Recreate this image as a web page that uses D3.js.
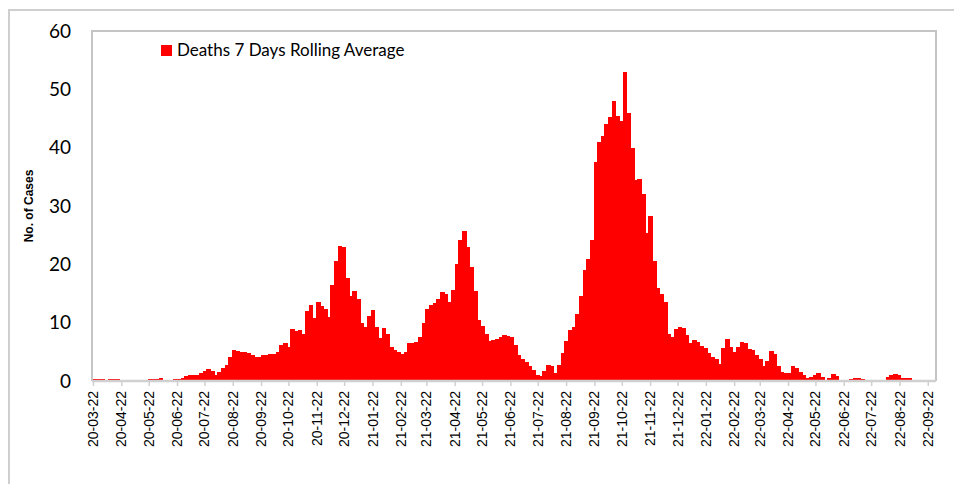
<!DOCTYPE html>
<html>
<head>
<meta charset="utf-8">
<script src="https://cdn.jsdelivr.net/npm/d3@7"></script>
<style>
  body { margin: 0; background: #fff; }
  svg { display: block; }
  .xlab { font-family: "Liberation Sans", Arial, sans-serif; font-size: 14px; fill: #000; }
  .ylab { font-family: Lato, "Open Sans", sans-serif; font-size: 19px; fill: #000; }
</style>
</head>
<body>
<svg id="chart" width="954" height="484"></svg>
<script>
// daily deaths, 7 day rolling average, read every 4 days from 22 Mar 2020
const startDate = "2020-03-22";
const stepDays = 4;
const deaths = [
  0.4, 0.4, 0.3, 0, 0.3, 0.3, 0.3, 0, 0, 0,
  0, 0, 0, 0, 0, 0.3, 0.3, 0.3, 0.5, 0.2,
  0, 0, 0.3, 0.3, 0.5, 0.8, 1.0, 1.0, 1.1, 1.4,
  1.7, 2.0, 1.7, 1.1, 1.6, 2.3, 2.8, 4.2, 5.3, 5.2,
  5.0, 5.0, 4.8, 4.5, 4.2, 4.2, 4.4, 4.5, 4.6, 4.6,
  5.0, 6.2, 6.6, 5.9, 9.0, 8.5, 8.7, 8.0, 12.0, 13.0,
  10.8, 13.5, 12.8, 12.3, 11.0, 16.5, 20.5, 23.1, 23.0, 17.7,
  14.5, 15.5, 14.0, 9.9, 9.3, 11.2, 12.2, 9.3, 7.3, 9.1,
  8.1, 5.9, 5.4, 4.9, 4.6, 5.0, 6.5, 6.6, 6.7, 7.6,
  10.0, 12.3, 13.0, 13.3, 14.0, 15.3, 15.0, 13.6, 15.6, 20.0,
  24.2, 25.8, 23.0, 19.5, 15.5, 10.5, 9.5, 8.0, 6.9, 7.0,
  7.2, 7.5, 7.9, 7.8, 7.5, 6.2, 4.4, 3.7, 3.3, 2.6,
  1.9, 1.1, 0.9, 1.8, 2.7, 2.5, 1.3, 2.8, 4.8, 6.8,
  8.7, 9.3, 11.5, 14.5, 19.0, 21.0, 24.2, 37.5, 41.0, 42.0,
  44.0, 45.2, 48.0, 45.5, 44.5, 53.0, 46.0, 40.0, 34.5, 34.7,
  32.0, 25.4, 28.3, 20.5, 16.0, 15.0, 13.5, 8.0, 7.6, 9.0,
  9.3, 9.1, 7.9, 6.5, 7.0, 6.7, 6.0, 5.6, 4.8, 4.2,
  3.8, 3.0, 5.6, 7.2, 5.9, 5.0, 5.8, 6.7, 6.5, 5.5,
  5.3, 4.4, 3.8, 2.6, 3.5, 5.2, 4.6, 2.6, 1.5, 1.4,
  1.4, 2.6, 2.3, 1.5, 1.0, 0.5, 0.7, 1.0, 1.3, 0.7,
  0.2, 0.6, 1.2, 0.9, 0.2, 0, 0, 0.4, 0.6, 0.5,
  0.3, 0, 0, 0, 0, 0, 0, 0.7, 1.0, 1.2,
  1.0, 0.6, 0.6, 0.5, 0
];

const tickLabels = [
  "20-03-22", "20-04-22", "20-05-22", "20-06-22", "20-07-22", "20-08-22",
  "20-09-22", "20-10-22", "20-11-22", "20-12-22", "21-01-22", "21-02-22",
  "21-03-22", "21-04-22", "21-05-22", "21-06-22", "21-07-22", "21-08-22",
  "21-09-22", "21-10-22", "21-11-22", "21-12-22", "22-01-22", "22-02-22",
  "22-03-22", "22-04-22", "22-05-22", "22-06-22", "22-07-22", "22-08-22",
  "22-09-22"
];
const yTicks = [0, 10, 20, 30, 40, 50, 60];
const legendLabel = "Deaths 7 Days Rolling Average";

const parseTick = d3.timeParse("%y-%m-%d");
const start = d3.timeParse("%Y-%m-%d")(startDate);
const data = deaths.map((v, i) => ({ date: d3.timeDay.offset(start, i * stepDays), value: v }));

const svg = d3.select("#chart");
const plotLeft = 92, plotRight = 936, plotTop = 31, plotBottom = 381;

// outer chart frame
svg.append("rect")
  .attr("x", 9).attr("y", 10).attr("width", 960).attr("height", 500)
  .attr("fill", "none").attr("stroke", "#cfcfcf").attr("stroke-width", 2);

const x = d3.scaleTime()
  .domain([parseTick("20-03-22"), parseTick("22-10-01")])
  .range([plotLeft + 1, plotRight]);
const y = d3.scaleLinear().domain([0, 60]).range([plotBottom, plotTop]);

// plot area frame
svg.append("path")
  .attr("d", `M${plotLeft},${plotBottom}V${plotTop}H${plotRight}V${plotBottom}`)
  .attr("fill", "none").attr("stroke", "#c4c4c4").attr("stroke-width", 2);

svg.append("g")
  .attr("shape-rendering", "crispEdges")
  .selectAll("rect")
  .data(data)
  .join("rect")
  .attr("x", d => x(d.date))
  .attr("width", d => x(d3.timeDay.offset(d.date, stepDays)) - x(d.date) + 1)
  .attr("y", d => y(d.value))
  .attr("height", d => y(0) - y(d.value))
  .attr("fill", "#ff0000");

// x axis
const xAxis = svg.append("g")
  .attr("transform", `translate(0,${plotBottom})`)
  .call(d3.axisBottom(x)
    .tickValues(tickLabels.map(parseTick))
    .tickSize(5)
    .tickFormat(""));
xAxis.select(".domain").attr("stroke", "#d0d0d0").attr("stroke-width", 2.5)
  .attr("d", `M${plotLeft},0H${plotRight}`);
xAxis.selectAll(".tick line").attr("stroke", "#d0d0d0").attr("stroke-width", 1.5);

svg.append("g")
  .selectAll("text")
  .data(tickLabels)
  .join("text")
  .attr("class", "xlab")
  .attr("transform", d => `translate(${x(parseTick(d))},391) rotate(-90)`)
  .attr("text-anchor", "end")
  .attr("dy", "0.36em")
  .text(d => d);

// y axis
const yAxis = svg.append("g")
  .attr("transform", `translate(${plotLeft},0)`)
  .call(d3.axisLeft(y).tickValues(yTicks).tickSize(0).tickPadding(21));
yAxis.select(".domain").remove();
yAxis.selectAll("text").attr("class", "ylab");
yAxis.attr("font-size", null).attr("font-family", null);

svg.append("text")
  .attr("transform", "translate(33,206) rotate(-90)")
  .attr("text-anchor", "middle")
  .attr("font-family", "Liberation Sans, Arial, sans-serif")
  .attr("font-weight", "bold")
  .attr("font-size", 12)
  .text("No. of Cases");

// legend
const legend = svg.append("g").attr("transform", "translate(161,45)");
legend.append("rect").attr("width", 11).attr("height", 11).attr("fill", "#ff0000");
legend.append("text")
  .attr("x", 16).attr("y", 11)
  .attr("font-family", "Lato, Open Sans, sans-serif")
  .attr("font-size", 17)
  .text(legendLabel);
</script>
</body>
</html>
